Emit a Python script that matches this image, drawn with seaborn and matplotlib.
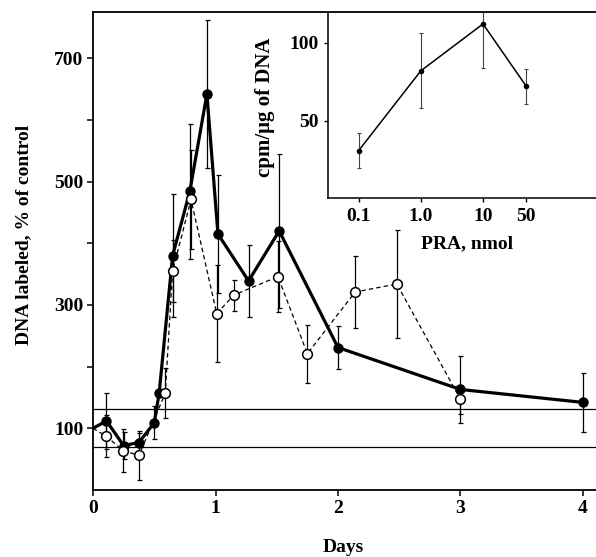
import matplotlib
matplotlib.use("Agg")
import matplotlib.pyplot as plt
from matplotlib.ticker import FixedLocator, NullLocator, NullFormatter
import seaborn as sns

sns.set_style("ticks")
plt.rcParams["font.family"] = ["Liberation Serif", "DejaVu Serif"]
plt.rcParams["font.weight"] = "bold"
plt.rcParams["axes.labelweight"] = "bold"
plt.rcParams["text.color"] = "black"
plt.rcParams["axes.labelcolor"] = "black"
plt.rcParams["xtick.color"] = "black"
plt.rcParams["ytick.color"] = "black"

# main panel: filled circles (solid line)
filled_days = [0, 0.11, 0.25, 0.375, 0.5, 0.54, 0.65, 0.79, 0.93, 1.02, 1.27, 1.52, 2.0, 3.0, 4.0]
filled_pct = [100, 112, 72, 77, 109, 157, 380, 484, 642, 415, 339, 420, 231, 163, 142]
filled_err = [0, 46, 22, 15, 27, 0, 100, 110, 120, 95, 58, 125, 35, 55, 48]

# main panel: open circles (dashed line)
open_days = [0, 0.11, 0.245, 0.375, 0.59, 0.65, 0.8, 1.01, 1.15, 1.51, 1.75, 2.14, 2.48, 3.0]
open_pct = [100, 87, 64, 56, 157, 355, 471, 286, 316, 346, 221, 321, 334, 147]
open_err = [0, 34, 35, 40, 40, 50, 80, 79, 25, 58, 47, 58, 88, 24]

# control range
control_band = [69, 132]

# inset
pra_nmol = [0.1, 1.0, 10, 50]
cpm = [31, 82, 112, 72]
cpm_err = [11, 24, 28, 11]
pra_labels = ["0.1", "1.0", "10", "50"]

fig = plt.figure(figsize=(5.96, 5.57), dpi=100)
ax = fig.add_axes([93 / 596, 1 - 490 / 557, 503 / 596, 478 / 557])

for y in control_band:
    ax.axhline(y, color="black", lw=0.9, zorder=1)

# dashed series
sns.lineplot(x=open_days, y=open_pct, ax=ax, color="black", lw=0.9,
             sort=False, estimator=None, zorder=2)
ax.lines[-1].set_dashes((3.5, 2.5))
ax.errorbar(open_days[1:], open_pct[1:], yerr=open_err[1:], fmt="none",
            ecolor="black", elinewidth=0.9, capsize=1.8, capthick=0.9, zorder=2)
ax.plot(open_days[1:], open_pct[1:], "o", ms=7, mfc="white", mec="black",
        mew=1.1, zorder=5)

# solid series
sns.lineplot(x=filled_days, y=filled_pct, ax=ax, color="black", lw=2.3,
             sort=False, estimator=None, zorder=3)
ax.errorbar(filled_days[1:], filled_pct[1:], yerr=filled_err[1:], fmt="none",
            ecolor="black", elinewidth=0.9, capsize=1.8, capthick=0.9, zorder=3)
ax.plot(filled_days[1:], filled_pct[1:], "o", ms=6.5, color="black", zorder=4)

ax.set_xlim(0, 503 / 122.5)
ax.set_ylim(0, 775)
ax.xaxis.set_major_locator(FixedLocator([0, 1, 2, 3, 4]))
ax.yaxis.set_major_locator(FixedLocator([100, 300, 500, 700]))
ax.yaxis.set_minor_locator(FixedLocator([200, 400, 600]))
ax.yaxis.set_minor_formatter(NullFormatter())
ax.tick_params(which="both", direction="out", length=4, width=1.1,
               labelsize=14, color="black", pad=3)
for s in ["left", "top", "bottom"]:
    ax.spines[s].set_linewidth(1.3)
    ax.spines[s].set_color("black")
ax.spines["right"].set_visible(False)
ax.set_xlabel("Days", fontsize=14)
ax.set_ylabel("DNA labeled, % of control", fontsize=14)
ax.xaxis.set_label_coords(0.497, -0.102)
ax.yaxis.set_label_coords(-0.121, 0.533)

# inset
ins = fig.add_axes([328 / 596, 1 - 198 / 557, 268 / 596, 185 / 557])
ins.patch.set_alpha(0)
sns.lineplot(x=pra_nmol, y=cpm, ax=ins, color="black", lw=1.1,
             sort=False, estimator=None)
ins.errorbar(pra_nmol, cpm, yerr=cpm_err, fmt="none", ecolor="#444444",
             elinewidth=0.8, capsize=1.5, capthick=0.8)
ins.plot(pra_nmol, cpm, "o", ms=3, color="black")
ins.set_xscale("log")
ins.set_xlim(0.032, 660)
ins.set_ylim(0.6, 119)
ins.xaxis.set_major_locator(FixedLocator(pra_nmol))
ins.set_xticklabels(pra_labels)
ins.xaxis.set_minor_locator(NullLocator())
ins.yaxis.set_major_locator(FixedLocator([50, 100]))
ins.tick_params(which="both", direction="out", length=3, width=1,
                labelsize=14, color="black", pad=4)
for s in ["left", "bottom"]:
    ins.spines[s].set_linewidth(1.1)
    ins.spines[s].set_color("black")
ins.spines["right"].set_visible(False)
ins.spines["top"].set_visible(False)
ins.set_xlabel("PRA, nmol", fontsize=14)
ins.set_ylabel("cpm/\u03bcg of DNA", fontsize=15)
ins.xaxis.set_label_coords(0.52, -0.2)
ins.yaxis.set_label_coords(-0.198, 0.49)

fig.savefig("out.png", dpi=100)
